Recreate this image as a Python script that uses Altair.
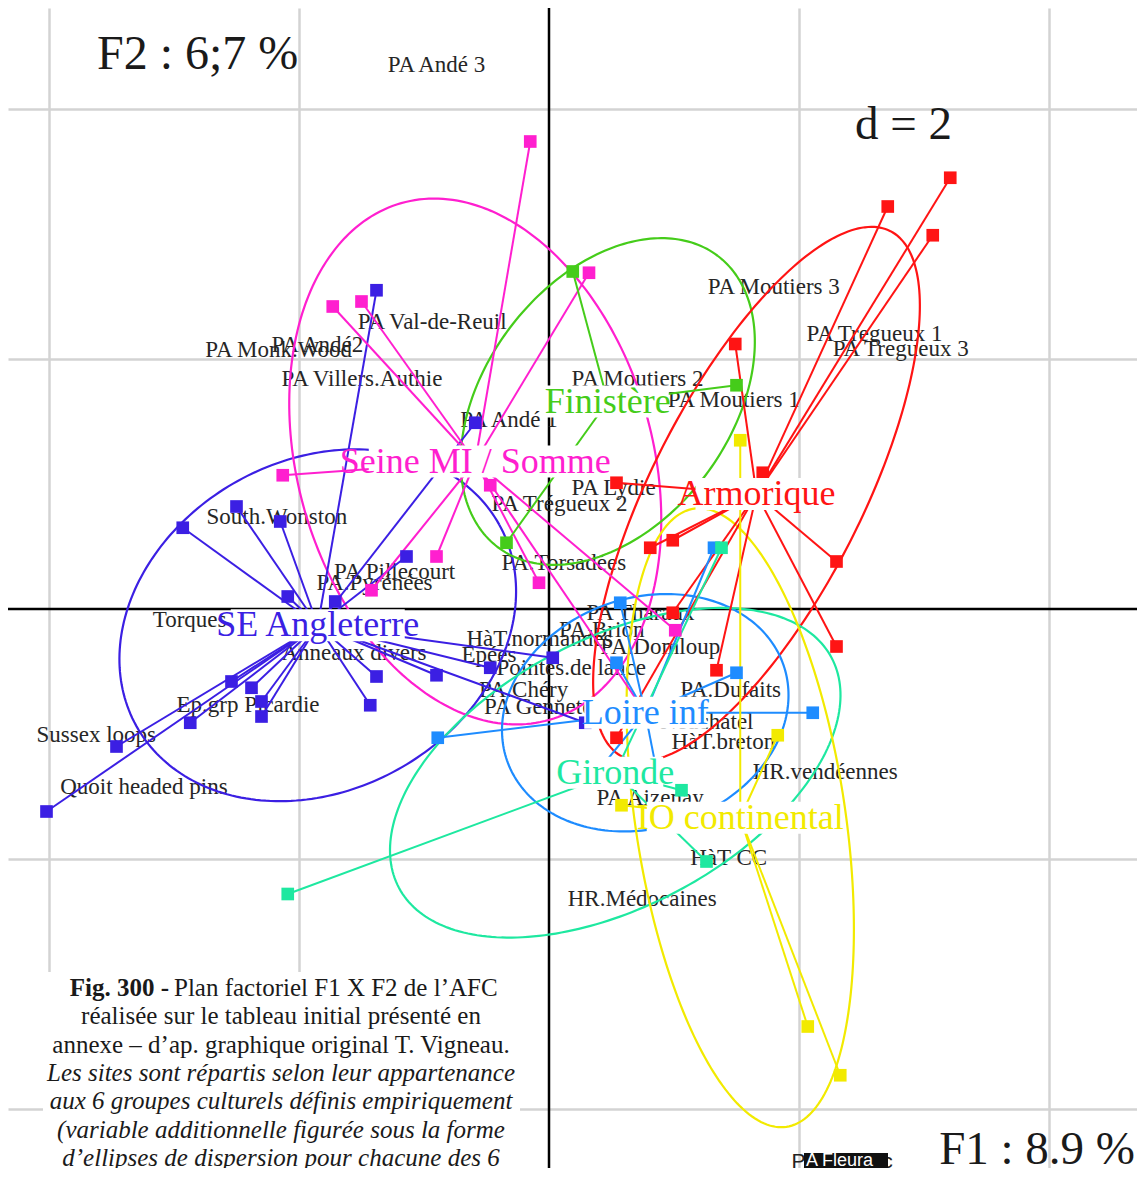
import numpy as np
import pandas as pd
import altair as alt

# ---------------- data (F1, F2 coordinates) ----------------
groups = ["SE Angleterre", "Seine MI / Somme", "Finistère", "Armorique",
          "Loire inf", "Gironde", "IO continental"]
colors = ["#3b1fe3", "#ff1fcf", "#45cc1a", "#ff1414", "#1e8cff", "#1ee8a0", "#f2ea00"]

# class centroids
cent_x = [-1.85, -0.59, 0.47, 1.66, 0.77, 0.53, 1.53]
cent_y = [-0.13, 1.18, 1.66, 0.92, -0.83, -1.31, -1.67]

# dispersion ellipses: semi-axes and angle of the major axis (degrees)
ell_a = [1.66, 2.15, 1.46, 2.36, 1.17, 1.96, 2.50]
ell_b = [1.32, 1.42, 0.98, 0.84, 0.92, 1.07, 0.84]
ell_angle = [29, 106, 53, 63, 19, 28, 98.5]

# sites of each group
se_x = [-2.93, -2.50, -2.15, -2.09, -1.71, -1.14, -0.59, -1.38, -1.38, -1.43, -2.30,
        -2.30, -2.38, -2.54, -2.87, -3.46, -4.02, -0.90, -0.47, 0.03, 0.29]
se_y = [0.65, 0.82, 0.70, 0.10, 0.06, 0.42, 1.49, 2.55, -0.54, -0.77, -0.86,
        -0.74, -0.63, -0.58, -0.91, -1.10, -1.62, -0.53, -0.47, -0.39, -0.91]
sm_x = [-0.15, -1.73, -1.50, 0.32, -2.13, -0.90, -1.42, -0.47, -0.08, 1.01, 0.73]
sm_y = [3.74, 2.42, 2.46, 2.69, 1.07, 0.42, 0.15, 0.99, 0.21, -0.17, -0.77]
fi_x = [0.19, 1.50, -0.34]
fi_y = [2.70, 1.79, 0.53]
ar_x = [2.71, 3.21, 3.07, 1.49, 1.71, 0.54, 0.99, 0.81, 2.30, 0.99, 2.30, 1.34, 0.54]
ar_y = [3.22, 3.45, 2.99, 2.12, 1.09, 1.01, 0.55, 0.49, 0.38, -0.03, -0.30, -0.49, -1.03]
li_x = [1.32, 0.57, 0.54, 1.50, 2.11, -0.89, 0.43, 0.86]
li_y = [0.49, 0.05, -0.43, -0.51, -0.83, -1.03, -1.25, -1.29]
gi_x = [-2.09, 1.06, 1.26, 1.38]
gi_y = [-2.28, -1.45, -2.02, 0.49]
io_x = [1.53, 2.07, 2.33, 1.83, 0.58]
io_y = [1.35, -3.34, -3.73, -1.01, -1.57]

# site / variable labels (left edge, vertical centre)
site_labels = ["PA Andé 3", "PA Val-de-Reuil", "PA Monk.Wood", "PA Andé2", "PA Villers.Authie",
               "PA Andé 1", "PA Moutiers 3", "PA Tregueux 1", "PA Tregueux 3", "PA Moutiers 2",
               "PA Moutiers 1", "PA Lydie", "PA Trégueux 2", "South.Wonston", "PA Pillecourt",
               "PA.Pyrénées", "PA.Torsadées", "Torques", "HàT.normandes", "PA Tharaux",
               "PA.Brion", "PA.Domloup", "Epées", "Pointes.de lance", "Anneaux divers",
               "Ep.grp Picardie", "Sussex loops", "Quoit headed pins", "PA.Chéry", "PA Gennete",
               "PA.Dufaits", "Neuchatel", "HàT.breton", "HR.vendéennes", "PA Aizenay",
               "HàT CC", "HR.Médocaines"]
site_lx = [-1.29, -1.53, -2.75, -2.22, -2.14, -0.71, 1.27, 2.06, 2.27, 0.18,
           0.95, 0.18, -0.46, -2.74, -1.72, -1.86, -0.38, -3.17, -0.66, 0.30,
           0.08, 0.41, -0.70, -0.42, -2.14, -2.98, -4.10, -3.91, -0.56, -0.52,
           1.05, 0.89, 0.98, 1.63, 0.38, 1.13, 0.15]
site_ly = [4.35, 2.30, 2.07, 2.11, 1.84, 1.51, 2.58, 2.20, 2.08, 1.84,
           1.67, 0.97, 0.84, 0.74, 0.30, 0.21, 0.37, -0.09, -0.24, -0.03,
           -0.17, -0.30, -0.37, -0.47, -0.35, -0.77, -1.01, -1.42, -0.65, -0.78,
           -0.65, -0.90, -1.06, -1.30, -1.51, -1.99, -2.32]
fleurac_label = "PA Fleurac"
fleurac_x = [1.94]
fleurac_y = [-4.42]

f2_title = "F2 : 6;7 %"
f1_title = "F1 : 8.9 %"
d_title = "d = 2"
caption_bold = "Fig. 300 -"
caption_first = "Plan factoriel F1 X F2 de l’AFC"
caption_regular = ["réalisée sur le tableau initial présenté en",
                   "annexe  – d’ap. graphique original T. Vigneau."]
caption_italic = ["Les sites sont répartis selon leur appartenance",
                  "aux 6 groupes culturels définis empiriquement",
                  "(variable additionnelle figurée sous la forme",
                  "d’ellipses de dispersion pour chacune des 6",
                  "modalités)"]

# ---------------- tables ----------------
site_sets = [(groups[0], se_x, se_y), (groups[1], sm_x, sm_y), (groups[2], fi_x, fi_y),
             (groups[3], ar_x, ar_y), (groups[4], li_x, li_y), (groups[5], gi_x, gi_y),
             (groups[6], io_x, io_y)]
rows = []
for g, xs, ys in site_sets:
    for a, b in zip(xs, ys):
        rows.append({"group": g, "x": a, "y": b})
pts = pd.DataFrame(rows)
cent = pd.DataFrame({"group": groups, "cx": cent_x, "cy": cent_y})
stars = pts.merge(cent, on="group")

t = np.linspace(0, 2 * np.pi, 241)
erows = []
for g, cx, cy, a, b, ang in zip(groups, cent_x, cent_y, ell_a, ell_b, ell_angle):
    phi = np.deg2rad(ang)
    ex = cx + a * np.cos(t) * np.cos(phi) - b * np.sin(t) * np.sin(phi)
    ey = cy + a * np.cos(t) * np.sin(phi) + b * np.sin(t) * np.cos(phi)
    for i, (u, v) in enumerate(zip(ex, ey)):
        erows.append({"group": g, "i": i, "x": float(u), "y": float(v)})
ell = pd.DataFrame(erows)

labels_df = pd.DataFrame({"name": site_labels, "x": site_lx, "y": site_ly})
fleurac_df = pd.DataFrame({"name": [fleurac_label], "x": fleurac_x, "y": fleurac_y})
one = pd.DataFrame({"k": [0]})

# ---------------- scales ----------------
W, H = 1129, 1160
sx = alt.Scale(domain=[-4.328, 4.704], nice=False, zero=False)
sy = alt.Scale(domain=[-4.472, 4.808], nice=False, zero=False)
grid_kw = dict(grid=True, labels=False, ticks=False, domain=False, title=None,
               gridColor="#d3d3d3", gridWidth=2.5)
ax_x = alt.Axis(values=[-4, -2, 2, 4], **grid_kw)
ax_y = alt.Axis(values=[-4, -2, 2, 4], **grid_kw)
cs = alt.Scale(domain=groups, range=colors)
COLOR = alt.Color("group:N", scale=cs, legend=None)


def X(f):
    return alt.X(f, type="quantitative", scale=sx, axis=ax_x)


def Y(f):
    return alt.Y(f, type="quantitative", scale=sy, axis=ax_y)


SERIF = "Liberation Serif"

axis_v = alt.Chart(one).mark_rule(color="black", strokeWidth=2.5).encode(
    x=alt.XDatum(0, type="quantitative", scale=sx, axis=ax_x))
axis_h = alt.Chart(one).mark_rule(color="black", strokeWidth=2.5).encode(
    y=alt.YDatum(0, type="quantitative", scale=sy, axis=ax_y))

site_text = alt.Chart(labels_df).mark_text(
    font=SERIF, fontSize=23, align="left", baseline="middle", color="#262626", clip=True
).encode(x=X("x"), y=Y("y"), text="name:N")

fleurac_text = alt.Chart(fleurac_df).mark_text(
    font="Liberation Sans", fontSize=21, align="left", baseline="middle", color="#222222"
).encode(x=X("x"), y=Y("y"), text="name:N")
fleurac_bar = alt.Chart(one).mark_rect(color="#111111").encode(
    x=alt.value(796), x2=alt.value(880), y=alt.value(1145), y2=alt.value(1160))
fleurac_inner = alt.Chart(one).mark_text(
    font="Liberation Sans", fontSize=18, align="left", baseline="middle", color="white"
).encode(x=alt.value(798), y=alt.value(1153), text=alt.value("A Fleura"))

ellipses = alt.Chart(ell).mark_line(strokeWidth=2.2, clip=True).encode(
    x=X("x"), y=Y("y"), color=COLOR, detail="group:N", order="i:Q")

star_lines = alt.Chart(stars).mark_rule(strokeWidth=2, clip=True).encode(
    x=X("x"), y=Y("y"), x2="cx:Q", y2="cy:Q", color=COLOR)

points = alt.Chart(pts).mark_square(size=160, opacity=1, filled=True, clip=True).encode(
    x=X("x"), y=Y("y"), color=COLOR)

boxes = alt.Chart(cent).transform_calculate(
    bx0="datum.cx - length(datum.group) * 0.052 - 0.02",
    bx1="datum.cx + length(datum.group) * 0.052 + 0.02",
    by0="datum.cy - 0.128",
    by1="datum.cy + 0.128",
).mark_rect(color="white", opacity=1).encode(
    x=X("bx0"), x2="bx1:Q", y=Y("by0"), y2="by1:Q")

class_text = alt.Chart(cent).mark_text(
    font=SERIF, fontSize=36, align="center", baseline="middle"
).encode(x=X("cx"), y=Y("cy"), text="group:N", color=COLOR)


def note(txt, x, y, size, align="left", weight="normal", style="normal",
         color="#1a1a1a", baseline="middle"):
    return alt.Chart(one).mark_text(
        font=SERIF, fontSize=size, align=align, baseline=baseline,
        fontWeight=weight, fontStyle=style, color=color
    ).encode(x=alt.value(x), y=alt.value(y), text=alt.value(txt))


titles = [note(f2_title, 89, 47, 48), note(d_title, 847, 117, 47),
          note(f1_title, 1127, 1156, 47, align="right", baseline="alphabetic")]

cap_box = alt.Chart(one).mark_rect(color="white").encode(
    x=alt.value(35), x2=alt.value(512), y=alt.value(964), y2=alt.value(1160))

cy0 = 980
step = 28.3
cap_layers = [cap_box,
              note(caption_bold, 161, cy0, 25, align="right", weight="bold"),
              note(caption_first, 166, cy0, 25)]
for k, line in enumerate(caption_regular):
    cap_layers.append(note(line, 273, cy0 + step * (k + 1), 25, align="center"))
for k, line in enumerate(caption_italic):
    cap_layers.append(note(line, 273, cy0 + step * (k + 3), 25, align="center", style="italic"))

chart = alt.layer(
    axis_v, axis_h, site_text, fleurac_text, fleurac_bar, fleurac_inner,
    ellipses, star_lines, points, boxes, class_text,
    *titles, *cap_layers
).properties(
    width=W, height=H, padding=0, autosize=alt.AutoSizeParams(type="none")
).configure_view(stroke=None)

chart.save("out.html", embed_options={"renderer": "svg", "actions": False})
